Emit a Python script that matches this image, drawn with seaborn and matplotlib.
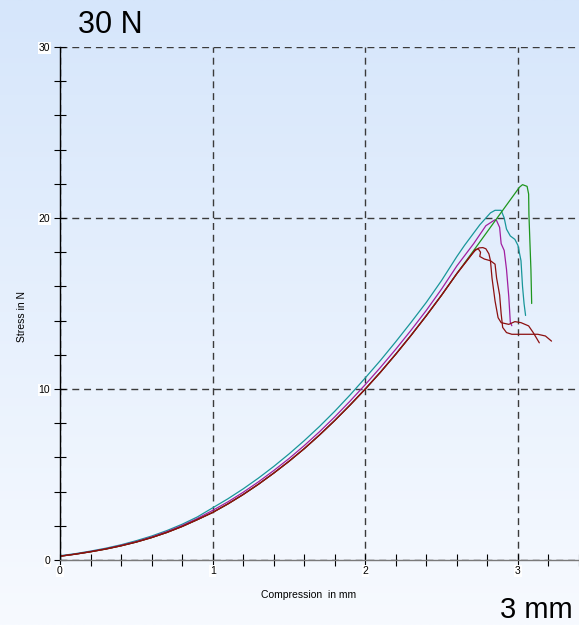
import numpy as np
import pandas as pd
import matplotlib
matplotlib.use('Agg')
import matplotlib.pyplot as plt
import seaborn as sns

# compression (mm) / stress (N)
base_x = [0, 0.1, 0.2, 0.3, 0.4, 0.5, 0.6, 0.7, 0.8, 0.9, 1.0, 1.1, 1.2, 1.3, 1.4,
          1.5, 1.6, 1.7, 1.8, 1.9, 2.0, 2.1, 2.2, 2.3, 2.4, 2.5, 2.6]

teal_x = base_x + [2.65, 2.75, 2.82, 2.85, 2.89, 2.91, 2.925, 2.95, 2.98, 3.0, 3.02, 3.03, 3.04, 3.05]
teal_y = [0.25, 0.37, 0.52, 0.69, 0.89, 1.13, 1.4, 1.72, 2.09, 2.52, 3.05, 3.58, 4.16, 4.79, 5.47,
          6.2, 6.98, 7.81, 8.7, 9.65, 10.65, 11.68, 12.77, 13.9, 15.07, 16.35, 17.75,
          18.4, 19.6, 20.3, 20.45, 20.45, 20.0, 19.35, 18.95, 18.75, 18.4, 17.5, 16.0, 15.0, 14.3]

magenta_x = base_x + [2.71, 2.79, 2.85, 2.86, 2.88, 2.89, 2.91, 2.925, 2.94, 2.95, 2.96]
magenta_y = [0.23, 0.35, 0.5, 0.66, 0.86, 1.08, 1.35, 1.66, 2.02, 2.43, 2.9, 3.4, 3.96, 4.57, 5.23,
             5.93, 6.69, 7.5, 8.37, 9.29, 10.26, 11.27, 12.33, 13.44, 14.6, 15.85, 17.2,
             18.5, 19.55, 19.9, 19.85, 19.45, 18.5, 18.1, 17.0, 15.4, 13.9, 13.7]

red_base_y = [0.22, 0.34, 0.48, 0.64, 0.83, 1.05, 1.31, 1.61, 1.96, 2.36, 2.78, 3.28, 3.83, 4.43, 5.08,
              5.77, 6.51, 7.31, 8.16, 9.06, 10.0, 10.99, 12.04, 13.14, 14.29, 15.49, 16.75]

green_x = base_x + [2.74, 2.88, 3.01, 3.03, 3.06, 3.07, 3.072, 3.078, 3.085, 3.09]
green_y = red_base_y + [18.47, 20.2, 21.8, 21.95, 21.85, 21.4, 20.2, 18.7, 17.0, 15.0]

red1_x = base_x + [2.7, 2.72, 2.74, 2.755, 2.75, 2.78, 2.82, 2.85, 2.86, 2.88, 2.89, 2.90,
                   2.925, 2.96, 3.02, 3.09, 3.13, 3.18, 3.22]
red1_y = red_base_y + [17.9, 18.15, 18.2, 18.0, 17.75, 17.6, 17.5, 17.3, 16.5, 15.5, 14.4, 13.6,
                       13.3, 13.2, 13.2, 13.2, 13.2, 13.1, 12.8]

red2_x = base_x + [2.7, 2.72, 2.745, 2.77, 2.79, 2.81, 2.82, 2.83, 2.85, 2.87, 2.89, 2.94,
                   2.98, 3.02, 3.07, 3.10, 3.14]
red2_y = red_base_y + [17.9, 18.1, 18.25, 18.27, 18.2, 17.9, 17.5, 16.5, 15.15, 14.17, 13.88, 13.78,
                       13.94, 13.88, 13.69, 13.3, 12.7]

curves = {'teal': (teal_x, teal_y), 'magenta': (magenta_x, magenta_y), 'green': (green_x, green_y),
          'red1': (red1_x, red1_y), 'red2': (red2_x, red2_y)}
colors = {'teal': '#18969a', 'magenta': '#a01ea0', 'green': '#1e961e', 'red1': '#8c1010', 'red2': '#8c1010'}

frames = []
for name, (xs, ys) in curves.items():
    frames.append(pd.DataFrame({'x': xs, 'y': ys, 'curve': name}))
df = pd.concat(frames, ignore_index=True)

sns.set_theme(style="white")
plt.rcParams['font.family'] = ['Liberation Sans', 'DejaVu Sans']
plt.rcParams['text.color'] = 'black'
plt.rcParams['axes.labelcolor'] = 'black'
plt.rcParams['xtick.color'] = 'black'
plt.rcParams['ytick.color'] = 'black'

fig = plt.figure(figsize=(5.79, 6.25), dpi=100)

# light blue gradient behind everything
bg = fig.add_axes([0, 0, 1, 1], zorder=-10)
top = np.array([214, 230, 251]) / 255
bot = np.array([247, 250, 255]) / 255
t = np.linspace(0, 1, 256)[:, None]
grad = (top * (1 - t) + bot * t)[:, None, :]
bg.imshow(grad, aspect='auto', extent=[0, 1, 0, 1])
bg.axis('off')

ax = fig.add_axes([60 / 579, 65 / 625, 519 / 579, 513 / 625])
ax.patch.set_alpha(0)

sns.lineplot(data=df, x='x', y='y', hue='curve', palette=colors, sort=False, estimator=None,
             legend=False, linewidth=0.9, ax=ax)

ax.set_xlim(0, 3.4)
ax.set_ylim(0, 30)
ax.set_xticks([0, 1, 2, 3])
ax.set_yticks([0, 10, 20, 30])
ax.set_xticks(np.arange(0, 3.41, 0.2), minor=True)
ax.set_yticks(np.arange(0, 30.1, 2), minor=True)
ax.grid(True, which='major', linestyle=(0, (5, 3.5)), color='#3a3a3a', linewidth=1.0)
ax.tick_params(which='both', direction='inout', length=8, width=0.8, color='black',
               bottom=True, left=True, top=False, right=False)
ax.tick_params(axis='x', which='major', pad=0.5, labelsize=7.5)
ax.tick_params(axis='y', which='major', pad=3, labelsize=7.5)
for sp in ['top', 'right']:
    ax.spines[sp].set_visible(False)
ax.spines['left'].set_color('black')
ax.spines['left'].set_linewidth(1.0)
ax.spines['bottom'].set_color('#7a7a7a')
ax.spines['bottom'].set_linewidth(1.0)
plt.setp(ax.get_xticklabels() + ax.get_yticklabels(),
         bbox=dict(facecolor='white', edgecolor='none', pad=0.6))

ax.set_xlabel('Compression  in mm', fontsize=7.5)
ax.set_ylabel('Stress in N', fontsize=7.5)
ax.xaxis.set_label_coords(0.478, -0.058)
ax.yaxis.set_label_coords(-0.064, 0.474)

fig.text(78 / 579, 1 - 33 / 625, '30 N', fontsize=22, va='baseline', ha='left')
fig.text(500 / 579, 7 / 625, '3 mm', fontsize=21, va='baseline', ha='left')

fig.savefig('out.png', dpi=100)
